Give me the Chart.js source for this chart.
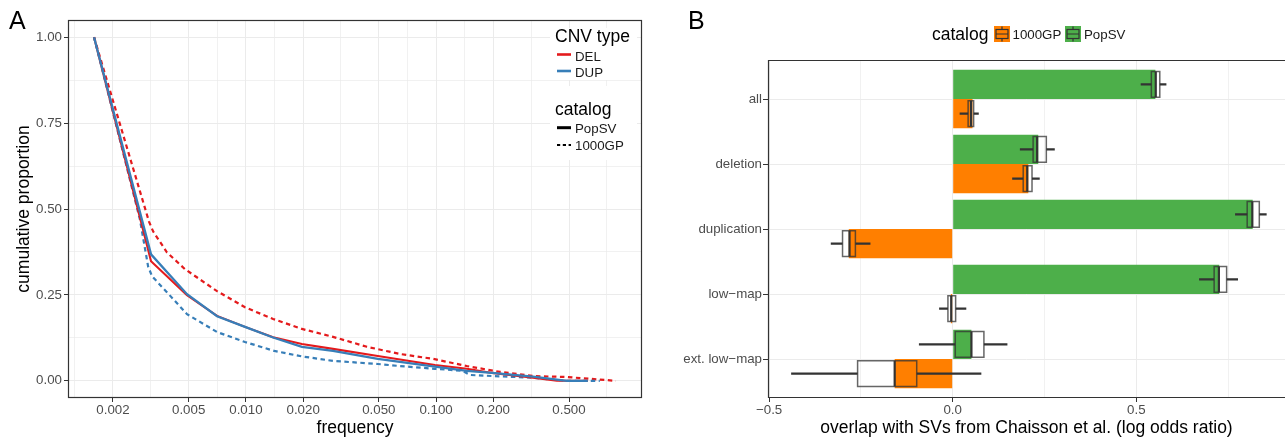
<!DOCTYPE html>
<html>
<head>
<meta charset="utf-8">
<script src="https://cdn.jsdelivr.net/npm/chart.js@4.4.0/dist/chart.umd.min.js"></script>
<style>
  html, body { margin: 0; padding: 0; background: #fff; }
  #wrap { position: relative; width: 1285px; height: 440px; overflow: hidden; }
  #chartA { position: absolute; left: 0; top: 0; }
  #chartB { position: absolute; left: 650px; top: 0; }
</style>
</head>
<body>
<div id="wrap">
  <canvas id="chartA" width="650" height="440"></canvas>
  <canvas id="chartB" width="635" height="440"></canvas>
</div>
<script>
// ---- panel A : cumulative proportion vs frequency ----
var delPopsvFreq = [0.00159, 0.00317, 0.0049, 0.00705, 0.00989, 0.0139, 0.0197, 0.0287, 0.0494, 0.0986, 0.145, 0.197, 0.323, 0.432, 0.628];
var delPopsvProp = [1.0, 0.348, 0.249, 0.189, 0.157, 0.127, 0.107, 0.093, 0.072, 0.046, 0.035, 0.023, 0.009, 0.0, 0.0];

var dupPopsvFreq = [0.00159, 0.00317, 0.0049, 0.00705, 0.00989, 0.0139, 0.0197, 0.0287, 0.0494, 0.0986, 0.145, 0.197, 0.323, 0.488, 0.628];
var dupPopsvProp = [1.0, 0.368, 0.252, 0.188, 0.157, 0.126, 0.099, 0.087, 0.064, 0.041, 0.029, 0.023, 0.012, 0.0, 0.0];

var del1000gpFreq = [0.00159, 0.00309, 0.00325, 0.00384, 0.00478, 0.00705, 0.00989, 0.0139, 0.0197, 0.0287, 0.0433, 0.0646, 0.0962, 0.145, 0.217, 0.323, 0.488, 0.882];
var del1000gpProp = [1.0, 0.464, 0.435, 0.374, 0.325, 0.261, 0.214, 0.18, 0.151, 0.128, 0.099, 0.078, 0.064, 0.043, 0.026, 0.014, 0.011, 0.0];

var dup1000gpFreq = [0.00159, 0.00277, 0.00306, 0.00321, 0.00384, 0.0049, 0.00705, 0.00989, 0.0141, 0.0197, 0.0287, 0.0494, 0.0646, 0.0986, 0.138, 0.151, 0.197, 0.323, 0.488, 0.726];
var dup1000gpProp = [1.0, 0.47, 0.333, 0.304, 0.258, 0.194, 0.142, 0.113, 0.087, 0.071, 0.058, 0.049, 0.043, 0.035, 0.029, 0.017, 0.014, 0.009, 0.0, 0.0];

var xMajorA = [0.002, 0.005, 0.01, 0.02, 0.05, 0.1, 0.2, 0.5];
var xMinorA = [0.00126, 0.00316, 0.00707, 0.01414, 0.0316, 0.0707, 0.1414, 0.316, 0.79];
var yTicksA = [0, 0.125, 0.25, 0.375, 0.5, 0.625, 0.75, 0.875, 1.0];

// ---- panel B : overlap log odds ratio ----
var categories = ['all', 'deletion', 'duplication', 'low\u2212map', 'ext. low\u2212map'];
var popsvLogOdds = [0.552, 0.233, 0.817, 0.726, 0.051];
var kgpLogOdds = [0.054, 0.206, -0.283, -0.005, -0.158];

// bootstrap boxes: whisker low, q1, median, q3, whisker high
var popsvLo = [0.512, 0.183, 0.769, 0.671, -0.092];
var popsvQ1 = [0.541, 0.219, 0.802, 0.712, 0.007];
var popsvMed = [0.553, 0.230, 0.816, 0.725, 0.051];
var popsvQ3 = [0.564, 0.255, 0.835, 0.746, 0.085];
var popsvHi = [0.582, 0.278, 0.855, 0.777, 0.149];

var kgpLo = [0.019, 0.162, -0.332, -0.037, -0.44];
var kgpQ1 = [0.042, 0.192, -0.300, -0.013, -0.259];
var kgpMed = [0.050, 0.203, -0.281, -0.004, -0.158];
var kgpQ3 = [0.057, 0.216, -0.265, 0.008, -0.098];
var kgpHi = [0.071, 0.237, -0.224, 0.037, 0.078];

var xTicksB = [-0.5, -0.25, 0, 0.25, 0.5, 0.75];
var xLabelsB = ['\u22120.5', '', '0.0', '', '0.5', ''];

var RED = '#E41A1C', BLUE = '#377EB8';
var ORANGE = '#FF7F00', GREEN = '#4DAF4A';
var GRID = '#ebebeb', TICKTXT = '#4d4d4d', DARK = '#333333';
var FONT = "'Liberation Sans', Arial, Helvetica, sans-serif";

Chart.defaults.font.family = FONT;
Chart.defaults.animation = false;

function pts(f, p) {
  return f.map(function (x, i) { return { x: x, y: p[i] }; });
}

function isMajorA(v) {
  return xMajorA.some(function (m) { return Math.abs(m - v) < 1e-9; });
}

var panelA = {
  id: 'panelA',
  afterDraw: function (chart) {
    var ctx = chart.ctx, a = chart.chartArea;
    ctx.save();
    ctx.strokeStyle = DARK;
    ctx.lineWidth = 1.2;
    ctx.strokeRect(Math.round(a.left) + 0.5, Math.round(a.top) + 0.5, Math.round(a.right - a.left) - 1, Math.round(a.bottom - a.top) - 1);

    // legend boxes
    ctx.fillStyle = '#fff';
    ctx.fillRect(550, 28, 87, 52);
    ctx.fillRect(550, 86, 87, 74);
    ctx.fillStyle = '#000';
    ctx.textBaseline = 'alphabetic';
    ctx.textAlign = 'left';
    ctx.font = '17.5px ' + FONT;
    ctx.fillText('CNV type', 555, 41.5);
    ctx.fillText('catalog', 555, 115);
    ctx.font = '13.3px ' + FONT;
    ctx.fillStyle = '#1a1a1a';
    ctx.fillText('DEL', 575, 60.5);
    ctx.fillText('DUP', 575, 76.7);
    ctx.fillText('PopSV', 575, 132.7);
    ctx.fillText('1000GP', 575, 150);

    ctx.lineWidth = 2.6;
    ctx.strokeStyle = RED;
    ctx.beginPath(); ctx.moveTo(557, 54.5); ctx.lineTo(571, 54.5); ctx.stroke();
    ctx.strokeStyle = BLUE;
    ctx.beginPath(); ctx.moveTo(557, 71); ctx.lineTo(571, 71); ctx.stroke();
    ctx.strokeStyle = '#000';
    ctx.lineWidth = 3;
    ctx.beginPath(); ctx.moveTo(557, 127.7); ctx.lineTo(571, 127.7); ctx.stroke();
    ctx.lineWidth = 2;
    ctx.setLineDash([3.2, 2.6]);
    ctx.beginPath(); ctx.moveTo(557, 145); ctx.lineTo(571, 145); ctx.stroke();
    ctx.setLineDash([]);

    ctx.font = '25px ' + FONT;
    ctx.fillStyle = '#000';
    ctx.fillText('A', 9, 29);
    ctx.restore();
  }
};

new Chart(document.getElementById('chartA'), {
  type: 'line',
  data: {
    datasets: [
      { label: 'DUP PopSV', data: pts(dupPopsvFreq, dupPopsvProp), borderColor: BLUE, borderWidth: 2.3 },
      { label: 'DEL PopSV', data: pts(delPopsvFreq, delPopsvProp), borderColor: RED, borderWidth: 2.1 },
      { label: 'DUP 1000GP', data: pts(dup1000gpFreq, dup1000gpProp), borderColor: BLUE, borderWidth: 2.2, borderDash: [4.5, 3.5] },
      { label: 'DEL 1000GP', data: pts(del1000gpFreq, del1000gpProp), borderColor: RED, borderWidth: 2.2, borderDash: [4.5, 3.5] }
    ]
  },
  options: {
    responsive: false,
    animation: false,
    layout: { padding: { left: 0, top: 20, right: 8, bottom: 0 } },
    elements: { point: { radius: 0 }, line: { tension: 0, fill: false } },
    plugins: { legend: { display: false }, tooltip: { enabled: false } },
    scales: {
      x: {
        type: 'logarithmic',
        min: 0.00116,
        max: 1.21,
        afterBuildTicks: function (s) {
          s.ticks = xMajorA.concat(xMinorA).sort(function (p, q) { return p - q; })
            .map(function (v) { return { value: v }; });
        },
        afterFit: function (s) { s.height = 42; },
        border: { display: false },
        grid: {
          color: GRID,
          lineWidth: function (c) { return c.tick && isMajorA(c.tick.value) ? 1 : 0.7; },
          tickLength: 4,
          tickColor: function (c) { return c.tick && isMajorA(c.tick.value) ? DARK : 'rgba(0,0,0,0)'; }
        },
        ticks: {
          autoSkip: false, maxRotation: 0, padding: 0, color: TICKTXT, font: { size: 13.3 },
          callback: function (v) { return isMajorA(v) ? v.toFixed(3) : ''; }
        },
        title: { display: true, text: 'frequency', color: '#000', font: { size: 17.5 }, padding: { top: 0, bottom: 1.5 } }
      },
      y: {
        type: 'linear',
        min: -0.05,
        max: 1.05,
        afterBuildTicks: function (s) {
          s.ticks = yTicksA.map(function (v) { return { value: v }; });
        },
        afterFit: function (s) { s.width = 68; },
        border: { display: false },
        grid: {
          color: GRID,
          lineWidth: function (c) { return c.tick && (c.tick.value * 4) % 1 === 0 ? 1 : 0.7; },
          tickLength: 4,
          tickColor: function (c) { return c.tick && (c.tick.value * 4) % 1 === 0 ? DARK : 'rgba(0,0,0,0)'; }
        },
        ticks: {
          autoSkip: false, padding: 2, color: TICKTXT, font: { size: 13.3 },
          callback: function (v) { return (v * 4) % 1 === 0 ? v.toFixed(2) : ''; }
        },
        title: { display: true, text: 'cumulative proportion', color: '#000', font: { size: 17.5 }, padding: { top: 13.5, bottom: 0 } }
      }
    }
  },
  plugins: [panelA]
});

// ---- panel B ----
var boxStats = [
  [popsvLo, popsvQ1, popsvMed, popsvQ3, popsvHi],
  [kgpLo, kgpQ1, kgpMed, kgpQ3, kgpHi]
];

function drawKey(ctx, x, y, fill) {
  ctx.fillStyle = fill;
  ctx.fillRect(x, y, 16, 16);
  ctx.strokeStyle = DARK;
  ctx.lineWidth = 1.2;
  ctx.strokeRect(x + 2, y + 3.5, 12, 9);
  ctx.beginPath();
  ctx.moveTo(x + 2, y + 8); ctx.lineTo(x + 14, y + 8);
  ctx.moveTo(x + 8, y + 0.5); ctx.lineTo(x + 8, y + 3.5);
  ctx.moveTo(x + 8, y + 12.5); ctx.lineTo(x + 8, y + 15.5);
  ctx.stroke();
}

var panelB = {
  id: 'panelB',
  afterDatasetsDraw: function (chart) {
    var ctx = chart.ctx, xs = chart.scales.x;
    ctx.save();
    boxStats.forEach(function (st, d) {
      var meta = chart.getDatasetMeta(d);
      meta.data.forEach(function (bar, i) {
        var cy = bar.y, h = bar.height * 0.44;
        var lo = xs.getPixelForValue(st[0][i]), q1 = xs.getPixelForValue(st[1][i]);
        var md = xs.getPixelForValue(st[2][i]), q3 = xs.getPixelForValue(st[3][i]);
        var hi = xs.getPixelForValue(st[4][i]);
        ctx.strokeStyle = DARK;
        ctx.lineWidth = 2.2;
        ctx.beginPath();
        ctx.moveTo(lo, cy); ctx.lineTo(q1, cy);
        ctx.moveTo(q3, cy); ctx.lineTo(hi, cy);
        ctx.stroke();
        ctx.strokeStyle = 'rgba(51,51,51,0.75)';
        ctx.lineWidth = 1.5;
        ctx.strokeRect(q1, cy - h, q3 - q1, 2 * h);
        ctx.strokeStyle = DARK;
        ctx.lineWidth = 2.2;
        ctx.beginPath();
        ctx.moveTo(md, cy - h); ctx.lineTo(md, cy + h);
        ctx.stroke();
      });
    });
    ctx.restore();
  },
  afterDraw: function (chart) {
    var ctx = chart.ctx, a = chart.chartArea;
    ctx.save();
    ctx.strokeStyle = DARK;
    ctx.lineWidth = 1.2;
    ctx.beginPath();
    ctx.moveTo(a.right, Math.round(a.top) + 0.5);
    ctx.lineTo(Math.round(a.left) + 0.5, Math.round(a.top) + 0.5);
    ctx.lineTo(Math.round(a.left) + 0.5, Math.round(a.bottom) - 0.5);
    ctx.lineTo(a.right, Math.round(a.bottom) - 0.5);
    ctx.stroke();

    ctx.textAlign = 'left';
    ctx.textBaseline = 'alphabetic';
    ctx.fillStyle = '#000';
    ctx.font = '17.5px ' + FONT;
    ctx.fillText('catalog', 282, 40);
    drawKey(ctx, 344, 26, ORANGE);
    drawKey(ctx, 415, 26, GREEN);
    ctx.fillStyle = '#1a1a1a';
    ctx.font = '13.3px ' + FONT;
    ctx.fillText('1000GP', 362.5, 39);
    ctx.fillText('PopSV', 434, 39);

    ctx.fillStyle = '#000';
    ctx.font = '25px ' + FONT;
    ctx.fillText('B', 38, 29);
    ctx.restore();
  }
};

new Chart(document.getElementById('chartB'), {
  type: 'bar',
  data: {
    datasets: [
      {
        label: 'PopSV',
        data: popsvLogOdds.map(function (v, i) { return { x: v, y: i + 1 }; }),
        backgroundColor: GREEN, borderWidth: 0
      },
      {
        label: '1000GP',
        data: kgpLogOdds.map(function (v, i) { return { x: v, y: i + 1 }; }),
        backgroundColor: ORANGE, borderWidth: 0
      }
    ]
  },
  options: {
    indexAxis: 'y',
    responsive: false,
    animation: false,
    layout: { padding: { left: 0, top: 60, right: 0, bottom: 0 } },
    datasets: { bar: { barPercentage: 1, categoryPercentage: 0.9 } },
    plugins: { legend: { display: false }, tooltip: { enabled: false } },
    scales: {
      x: {
        type: 'linear',
        min: -0.503,
        max: 0.905,
        afterBuildTicks: function (s) {
          s.ticks = xTicksB.map(function (v) { return { value: v }; });
        },
        afterFit: function (s) { s.height = 42; },
        border: { display: false },
        grid: {
          color: GRID,
          lineWidth: function (c) { return c.index % 2 === 0 ? 1 : 0.7; },
          tickLength: 4,
          tickColor: function (c) { return c.index % 2 === 0 ? DARK : 'rgba(0,0,0,0)'; }
        },
        ticks: {
          autoSkip: false, maxRotation: 0, padding: 0, color: TICKTXT, font: { size: 13.3 },
          callback: function (v, i) { return xLabelsB[i]; }
        },
        title: {
          display: true, text: 'overlap with SVs from Chaisson et al. (log odds ratio)',
          color: '#000', font: { size: 17.5 }, padding: { top: 0, bottom: 1.5 }
        }
      },
      y: {
        type: 'linear',
        min: 0.4,
        max: 5.6,
        reverse: true,
        offset: false,
        afterBuildTicks: function (s) {
          s.ticks = categories.map(function (c, i) { return { value: i + 1 }; });
        },
        afterFit: function (s) { s.width = 118; },
        border: { display: false },
        grid: { color: GRID, lineWidth: 1, offset: false, tickLength: 5, tickColor: DARK },
        ticks: {
          autoSkip: false, padding: 1, color: TICKTXT, font: { size: 13.3 },
          callback: function (v, i) { return categories[i]; }
        }
      }
    }
  },
  plugins: [panelB]
});
</script>
</body>
</html>
